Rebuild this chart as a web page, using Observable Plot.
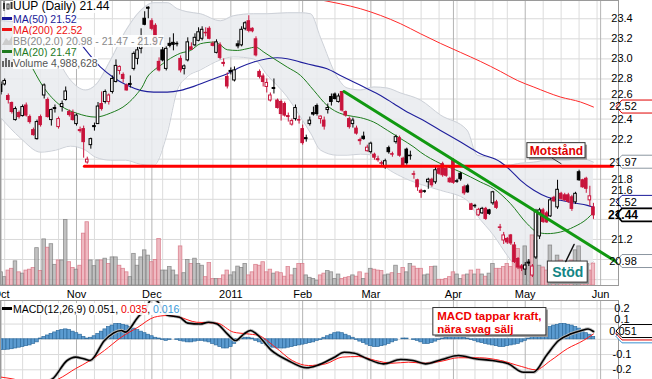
<!DOCTYPE html>
<html><head><meta charset="utf-8">
<script src="https://cdn.jsdelivr.net/npm/d3@7"></script>
<script src="https://cdn.jsdelivr.net/npm/@observablehq/plot@0.6"></script>
<style>
body{margin:0;background:#fff;}
#chart{position:relative;width:652px;height:379px;overflow:hidden;font-family:"Liberation Sans",Arial,sans-serif;}
#chart svg.plot{position:absolute;left:0;display:block;}
.leg{position:absolute;left:2px;font-size:10.5px;line-height:11px;white-space:nowrap;}
.leg span.t{background:rgba(255,255,255,0.9);}
</style></head><body><div id="chart"></div><script>
// ---------- DATA ----------
const opens = [22.74,22.745,22.63,22.56,22.39,22.46,22.43,22.535,22.42,22.29,
22.20,22.42,22.635,22.59,22.39,22.51,22.32,22.52,22.59,22.47,
22.46,22.35,22.29,22.30,21.967,22.14,22.33,22.35,22.55,22.57,
22.57,22.67,22.77,22.88,22.84,22.735,22.75,22.90,23.00,23.10,
23.40,23.51,23.375,23.33,22.97,23.085,22.90,23.15,23.16,23.15,
23.00,22.90,22.985,23.115,23.135,23.18,23.20,23.26,23.30,23.15,
23.06,23.135,22.96,22.82,22.88,22.785,23.145,23.135,23.30,23.375,
23.30,23.195,22.87,22.825,22.72,22.585,22.71,22.585,22.57,22.55,
22.43,22.345,22.40,22.39,22.30,22.21,22.35,22.46,22.53,22.40,
22.385,22.49,22.62,22.645,22.57,22.67,22.47,22.40,22.35,22.305,
22.19,22.225,22.08,22.07,22.045,22.00,21.96,21.92,22.11,22.05,
22.17,22.21,22.005,22.095,22.035,21.85,21.79,21.685,21.68,21.77,
21.795,21.77,21.905,21.95,21.905,21.805,21.99,21.78,21.855,21.72,
21.73,21.55,21.535,21.44,21.46,21.505,21.49,21.56,21.57,21.32,
21.19,21.205,21.24,21.14,21.005,20.93,20.90,20.97,20.84,21.02,
21.23,21.49,21.46,21.43,21.615,21.52,21.655,21.64,21.64,21.62,
21.57,21.87,21.79,21.805,21.59,21.52];
const highs = [22.77,22.80,22.65,22.57,22.52,22.48,22.54,22.56,22.44,22.31,
22.39,22.44,22.75,22.61,22.50,22.54,22.42,22.58,22.72,22.49,
22.49,22.45,22.32,22.33,22.02,22.21,22.36,22.565,22.67,22.69,
22.65,22.83,22.99,22.93,22.86,22.75,22.83,23.07,23.12,23.30,
23.47,23.52,23.40,23.35,23.01,23.12,23.12,23.21,23.25,23.17,
23.03,22.94,23.21,23.16,23.25,23.31,23.32,23.31,23.32,23.17,
23.19,23.16,23.00,22.86,22.91,22.92,23.18,23.32,23.37,23.43,
23.31,23.22,22.89,22.85,22.80,22.66,22.80,22.60,22.59,22.57,
22.46,22.40,22.54,22.43,22.34,22.24,22.42,22.52,22.55,22.43,
22.42,22.55,22.65,22.66,22.65,22.675,22.48,22.42,22.41,22.33,
22.21,22.27,22.14,22.17,22.06,22.03,21.98,22.00,22.13,22.07,
22.24,22.23,22.02,22.11,22.08,21.88,21.80,21.70,21.69,21.81,
21.81,21.92,21.92,21.97,21.92,21.82,22.005,21.80,21.87,21.74,
21.75,21.56,21.55,21.51,21.52,21.52,21.50,21.68,21.59,21.35,
21.27,21.22,21.25,21.17,21.02,20.95,20.97,21.00,20.95,21.50,
21.51,21.51,21.48,21.61,21.63,21.79,21.67,21.66,21.66,21.64,
21.67,21.89,21.80,21.82,21.73,21.56];
const lows = [22.64,22.73,22.55,22.45,22.38,22.40,22.42,22.42,22.35,22.23,
22.19,22.32,22.60,22.41,22.33,22.46,22.30,22.47,22.58,22.42,
22.38,22.33,22.26,22.01,21.95,22.10,22.28,22.35,22.48,22.55,
22.54,22.65,22.76,22.84,22.76,22.68,22.71,22.88,22.94,23.05,
23.33,23.40,23.28,23.13,22.87,22.97,22.88,23.11,23.08,23.12,
22.86,22.84,22.97,23.09,23.12,23.17,23.18,23.22,23.19,23.12,
23.05,22.99,22.92,22.70,22.84,22.77,23.10,23.12,23.28,23.26,
23.26,23.02,22.80,22.72,22.66,22.57,22.65,22.50,22.38,22.42,
22.37,22.33,22.38,22.35,22.14,22.17,22.33,22.43,22.43,22.35,
22.29,22.45,22.53,22.59,22.56,22.47,22.42,22.30,22.31,22.24,
22.14,22.19,22.07,22.05,21.99,21.97,21.93,21.90,22.05,22.02,
22.15,22.02,21.92,21.94,21.99,21.80,21.68,21.61,21.66,21.70,
21.72,21.75,21.84,21.82,21.82,21.76,21.75,21.76,21.78,21.64,
21.66,21.49,21.51,21.43,21.45,21.39,21.44,21.54,21.50,21.28,
21.15,21.15,21.14,20.96,20.90,20.88,20.84,20.93,20.82,21.00,
21.20,21.36,21.36,21.42,21.57,21.50,21.59,21.58,21.56,21.48,
21.55,21.78,21.71,21.66,21.53,21.40];
const closes = [22.67,22.78,22.59,22.47,22.50,22.42,22.52,22.435,22.37,22.24,
22.37,22.34,22.735,22.42,22.49,22.50,22.40,22.55,22.675,22.44,
22.39,22.435,22.28,22.17,21.995,22.20,22.32,22.525,22.50,22.67,
22.635,22.80,22.93,22.92,22.80,22.685,22.74,23.05,23.085,23.22,
23.34,23.50,23.30,23.15,22.885,22.985,23.10,23.13,23.14,23.145,
22.885,22.925,23.165,23.09,23.21,23.265,23.29,23.255,23.20,23.13,
23.165,23.01,22.95,22.725,22.87,22.885,23.125,23.29,23.355,23.28,
23.275,23.035,22.82,22.77,22.76,22.635,22.70,22.51,22.45,22.435,
22.42,22.38,22.51,22.385,22.16,22.20,22.385,22.445,22.45,22.425,
22.325,22.51,22.57,22.60,22.625,22.485,22.435,22.32,22.385,22.255,
22.18,22.20,22.115,22.155,22.015,21.99,21.955,21.98,22.07,22.045,
22.22,22.035,21.935,21.96,22.03,21.845,21.72,21.665,21.675,21.795,
21.74,21.89,21.855,21.84,21.835,21.77,21.765,21.775,21.80,21.66,
21.67,21.495,21.53,21.495,21.505,21.405,21.455,21.67,21.515,21.315,
21.24,21.17,21.16,20.975,20.92,20.91,20.94,20.96,20.93,21.475,
21.49,21.375,21.37,21.59,21.58,21.695,21.605,21.59,21.575,21.505,
21.655,21.79,21.72,21.705,21.63,21.44];
// volume, millions of shares
const volumes = [3.0,1.9,3.4,3.8,5.5,3.0,2.7,3.4,3.6,4.0,
8.5,3.3,10.5,8.6,9.4,4.7,5.7,5.7,14.9,5.3,
4.0,3.6,4.5,11.8,14.4,5.7,4.4,5.7,5.7,6.1,
4.9,6.4,6.4,4.5,3.8,3.0,1.9,7.2,4.5,6.4,
8.0,6.8,5.3,5.8,10.6,3.4,3.4,4.2,3.4,2.3,
8.9,2.8,5.8,4.9,6.1,4.9,4.5,1.9,5.1,1.5,
1.5,1.5,2.3,3.4,2.3,3.0,4.3,4.0,4.9,2.3,
3.0,4.7,4.5,5.3,3.0,3.6,2.7,3.0,2.8,2.0,
4.2,2.3,3.8,4.9,4.9,2.3,1.75,1.5,1.1,2.3,
2.7,3.3,3.0,1.5,2.5,1.5,1.75,1.9,2.3,2.0,
3.0,1.5,2.7,3.8,3.6,3.4,3.3,2.3,2.5,2.8,
4.5,2.6,4.0,3.0,4.9,4.3,3.8,3.8,2.3,2.5,
4.2,4.3,1.3,1.3,1.5,1.9,3.0,2.5,1.5,2.3,
2.5,3.4,2.5,3.6,2.5,2.0,2.7,4.9,3.8,3.8,
4.2,4.9,4.2,9.1,8.3,4.5,8.9,5.7,11.4,10.2,
4.5,4.1,3.4,9.1,4.5,6.8,5.7,4.1,3.4,5.7,
8.0,8.9,3.4,5.0,3.4,4.99];
// MACD histogram per day
const histogram = [-0.07,-0.07,-0.068,-0.065,-0.06,-0.055,-0.05,-0.045,-0.04,-0.03,-0.02,
0.005,0.015,0.025,0.035,0.045,0.055,0.06,0.065,0.06,0.05,0.04,0.03,0.015,0.005,
0.01,0.02,0.035,0.05,0.065,0.08,0.09,0.1,0.1,0.095,0.09,0.08,0.07,0.06,0.05,0.04,0.03,0.02,0.01,0.005,
-0.005,-0.01,-0.005,0,-0.005,-0.01,-0.015,-0.02,-0.02,-0.015,-0.01,-0.01,-0.015,-0.02,-0.03,-0.04,-0.05,-0.06,-0.06,-0.05,
-0.03,-0.01,0.005,0.01,0.01,0.005,
-0.01,-0.02,-0.03,-0.04,-0.05,-0.055,-0.06,-0.06,-0.06,-0.055,-0.05,-0.045,-0.04,-0.035,-0.03,-0.025,-0.02,-0.01,-0.005,
0.01,0.02,0.03,0.04,0.045,0.04,0.03,0.02,0.01,
-0.005,-0.015,-0.025,-0.035,-0.045,-0.05,-0.05,-0.045,-0.04,-0.03,-0.02,-0.01,
0,0.005,0.005,0,-0.005,
-0.01,-0.02,-0.03,-0.03,-0.025,-0.015,-0.005,
0.005,0.01,0.015,0.02,0.02,0.015,0.01,0.005,
-0.005,-0.01,-0.02,-0.025,-0.03,-0.035,-0.04,-0.045,-0.05,-0.05,-0.045,-0.04,-0.035,-0.03,-0.02,-0.01,
0.005,0.015,0.03,0.045,0.06,0.07,0.08,0.09,0.095,0.1,0.1,0.095,0.09,0.08,0.07,0.055,0.04,0.03,0.016];
// overlay lines: [day index, value]
const ma20 = [[5.4,23.134],[7.6,22.985],[11.8,22.719],[16.5,22.536],[21.2,22.457],[26.3,22.42],[30.5,22.46],[35.1,22.55],[37.9,22.653],[39.3,22.719],[40.7,22.818],[42.5,22.885],[44.4,22.935],[46.3,22.985],[50,23.057],[52.8,23.084],[55.5,23.151],[59.2,23.167],[60.6,23.151],[63,23.091],[65.8,23.084],[68.5,23.101],[70.9,23.117],[73.2,23.067],[76,23.002],[79.7,22.918],[83.4,22.835],[87.1,22.686],[90.8,22.536],[93.6,22.47],[96.4,22.437],[100.1,22.414],[103.8,22.37],[107.6,22.288],[111.3,22.205],[115,22.121],[116.8,22.071],[122.4,21.956],[128,21.872],[133.5,21.773],[137.2,21.707],[141.9,21.557],[146.5,21.358],[149.3,21.274],[152.1,21.258],[155.8,21.274],[159.5,21.324],[163.3,21.408],[165,21.47]];
const ma50 = [[12.4,23.582],[20.7,23.217],[27.7,22.918],[31.4,22.812],[35.1,22.736],[38.8,22.686],[42.5,22.669],[46.3,22.669],[50,22.686],[53.7,22.726],[56.9,22.769],[59.3,22.802],[63,22.852],[66.7,22.918],[70.4,22.968],[74.1,23.002],[76.9,23.012],[79.7,23.002],[83.4,22.968],[87.1,22.935],[90.8,22.902],[94.5,22.835],[98.2,22.769],[102,22.703],[105.7,22.636],[109.4,22.553],[113.1,22.47],[116.8,22.404],[122.4,22.287],[128,22.171],[133.5,22.055],[139.1,21.972],[141.9,21.889],[144.7,21.789],[148.4,21.69],[152.1,21.623],[155.8,21.59],[159.5,21.563],[163.3,21.54],[165,21.52]];
const ma200 = [[83.4,23.632],[89.9,23.582],[94.5,23.549],[100.1,23.5],[105.7,23.433],[111.3,23.35],[116.8,23.251],[122.4,23.154],[128,23.064],[133.5,22.975],[139.1,22.875],[143.8,22.785],[148.4,22.719],[155.8,22.62],[161.4,22.57],[165,22.52]];
// Bollinger band: [day index, lower, upper]
const bollinger = [[0,22.41,23.38],[5.4,22.21,23.36],[11,22.07,23.28],[15.2,22.09,23.03],[19.3,22.13,22.79],[23.5,22.09,22.69],[26.3,22.02,22.74],[30.5,21.99,22.99],[34.7,21.99,23.28],[38.8,21.95,23.48],[42.5,21.94,23.56],[46.3,22.26,23.56],[49.1,22.69,23.50],[51.8,22.82,23.47],[55.5,22.89,23.45],[61.1,22.99,23.38],[64.7,23.02,23.43],[70.3,23.00,23.45],[74.1,22.84,23.45],[79.7,22.62,23.46],[83.4,22.42,23.46],[86.2,22.26,23.45],[89,22.09,23.21],[93.6,22.04,22.82],[96.4,22.04,22.71],[100.1,22.05,22.69],[103.8,22.04,22.72],[107.5,21.91,22.71],[111.3,21.83,22.66],[116.8,21.75,22.59],[122.4,21.69,22.44],[129.8,21.59,22.29],[132.6,21.44,22.04],[137.2,21.24,22.01],[141,21.04,21.94],[144.7,20.87,21.96],[148.3,20.74,21.97],[152.1,20.69,21.99],[157.7,20.77,21.99],[161.4,20.87,22.01],[165,20.98,21.97]];
const macdLine = [[0,-0.32],[8,-0.31],[14.3,-0.26],[18.4,-0.139],[20.7,-0.117],[23,-0.128],[24.8,-0.139],[28.8,-0.008],[33.5,0.058],[34.6,0.047],[38.1,0.145],[40.5,0.207],[42,0.27],[43.5,0.25],[46.3,0.158],[49.7,0.145],[52,0.106],[55.5,0.10],[57.8,0.112],[60.2,0.10],[63,0.036],[65.3,-0.008],[67.7,0.036],[69.5,0.058],[71.1,0.036],[75.3,-0.073],[79.9,-0.139],[85.1,-0.187],[88,-0.172],[92.6,-0.121],[95.6,-0.085],[98.4,-0.091],[102,-0.128],[106.5,-0.161],[111.3,-0.132],[114.7,-0.139],[118.2,-0.161],[122.8,-0.132],[127.4,-0.106],[132.1,-0.128],[136.8,-0.139],[141.3,-0.161],[145.5,-0.216],[148.3,-0.216],[151.9,-0.106],[155.3,-0.008],[158.8,0.036],[161.7,0.058],[163.5,0.068],[165,0.051]];
const signalLine = [[0,-0.248],[3.3,-0.26],[10,-0.30],[16,-0.26],[20.7,-0.193],[24.8,-0.139],[28.8,-0.073],[33.5,0.014],[38.1,0.079],[42.7,0.145],[46.3,0.156],[49.7,0.145],[54.4,0.112],[60.2,0.106],[64.7,0.047],[68.4,0.036],[71.7,0.025],[76.4,-0.052],[81.1,-0.139],[85.6,-0.172],[90.4,-0.161],[95,-0.117],[99.6,-0.113],[104.3,-0.139],[108.9,-0.157],[113.5,-0.15],[118.2,-0.157],[122.8,-0.143],[127.4,-0.121],[133.3,-0.121],[139.1,-0.139],[144.9,-0.178],[148.9,-0.2],[153.1,-0.139],[157.7,-0.062],[162.2,-0.008],[165,0.035]];
// user-drawn lines
const resistanceLine = [[23.2,21.93],[170.3,21.93]];
const trendLine = [[95.5,22.675],[171.7,20.97]];
// axis ticks / labels
const monthIdx = [0,21,42,64,84,103,126,146,167];
const monthLabels = ["Oct","Nov","Dec","2011","Feb","Mar","Apr","May","Jun"];
const weekIdx = [1,6,11,16,26,31,36,40,45,50,55,59,69,74,78,83,88,93,98,102,107,112,117,122,127,132,137,141,151,156,161,166];
const priceGrid = [20.8,21.0,21.2,21.4,21.6,21.8,22.0,22.2,22.4,22.6,22.8,23.0,23.2,23.4];
const priceLabels = [21.2,21.6,21.8,22.2,22.4,22.6,22.8,23.0,23.2,23.4];
const macdGrid = [-0.2,-0.1,0,0.1,0.2];
const macdLabels = [-0.2,-0.1,0.1,0.2];
const priceTags = [{v:22.52,t:"22.52",c:"#e00000"},{v:21.97,t:"21.97",c:"#8c96a0"},{v:21.52,t:"21.52",c:"#1a1a99"},{v:21.44,t:"21.44",c:"#000",b:true},{v:20.98,t:"20.98",c:"#8c96a0"}];
const macdTags = [{v:0.016,t:"",c:"#3a90d0"},{v:0.035,t:"",c:"#e00000"},{v:0.051,t:"0.051",c:"#000"}];
const legendMain = [
  {t:"UUP (Daily) 21.44", c:"#000", icon:"candle"},
  {t:"MA(50) 21.52", c:"#1a1a99", icon:"line"},
  {t:"MA(200) 22.52", c:"#ee1111", icon:"line"},
  {t:"BB(20,2.0) 20.98 - 21.47 - 21.97", c:"#8a8a8a", icon:"band"},
  {t:"MA(20) 21.47", c:"#1e7a1e", icon:"line"},
  {t:"Volume 4,988,628", c:"#555", icon:"vol"}];
const calloutMotstand = {text:"Motstånd", box:[146.6,162.8,22.01,22.16], ptr:[[153.5,22.01],[156,21.955]]};
const calloutStod = {text:"Stöd", box:[152.3,163.4,20.77,20.98], ptr:[[157.3,20.98],[159.6,21.15]]};
const calloutMacd = {lines:["MACD tappar kraft,","nära svag sälj"], box:[120.4,151.9,0.025,0.205], textAt:[[121.5,0.148],[121.5,0.066]]};

// ---------- BUILD ----------
const RED = "#c8143c";
const candles = closes.map((c,i)=>({i, o:opens[i], h:highs[i], l:lows[i], c, v:volumes[i],
  col: (i>0 && c<closes[i-1]) ? RED : "#000"}));
const xDomain = [-0.167, 171.98];
const yDomain = [20.741, 23.582];
const volBase = yDomain[0], volK = 0.0438;
const font = "Liberation Sans, Arial, sans-serif";

const main = Plot.plot({
  width:652, height:300, marginLeft:0, marginRight:34, marginTop:0, marginBottom:15,
  x:{domain:xDomain, axis:null}, y:{domain:yDomain, axis:null},
  style:{fontFamily:font, fontSize:"11px", background:"transparent", overflow:"visible"},
  marks:[
    Plot.ruleY(priceGrid, {y:d=>d, stroke:"#d9d9d9", strokeWidth:1}),
    Plot.ruleX(weekIdx, {x:d=>d, stroke:"#dcdcdc", strokeWidth:1}),
    Plot.ruleX(monthIdx, {x:d=>d, stroke:"#b4b4b4", strokeWidth:1}),
    Plot.areaY(bollinger, {x:d=>d[0], y1:d=>d[1], y2:d=>d[2], fill:"#e9ebef", fillOpacity:0.85, curve:"monotone-x", clip:true}),
    Plot.line(bollinger, {x:d=>d[0], y:d=>d[2], stroke:"#cdd1d8", strokeWidth:1, curve:"monotone-x", clip:true}),
    Plot.line(bollinger, {x:d=>d[0], y:d=>d[1], stroke:"#cdd1d8", strokeWidth:1, curve:"monotone-x", clip:true}),
    Plot.rect(candles, {x1:d=>d.i-0.5, x2:d=>d.i+0.5, y1:volBase, y2:d=>volBase+d.v*volK,
      fill:d=>d.col===RED?"#e9a3ae":"#acacac", fillOpacity:0.75,
      stroke:d=>d.col===RED?"#d4707f":"#7c7c7c", strokeOpacity:0.8, strokeWidth:0.8}),
    Plot.line(ma200, {x:d=>d[0], y:d=>d[1], stroke:"#ff2a2a", strokeWidth:1, curve:"monotone-x", clip:true}),
    Plot.line(ma50, {x:d=>d[0], y:d=>d[1], stroke:"#1f1f9c", strokeWidth:1.1, curve:"monotone-x", clip:true}),
    Plot.line(ma20, {x:d=>d[0], y:d=>d[1], stroke:"#1e7d1e", strokeWidth:1, curve:"monotone-x", clip:true}),
    Plot.ruleX(candles, {x:"i", y1:"l", y2:"h", stroke:"col", strokeWidth:1}),
    Plot.rect(candles, {x1:d=>d.i-0.36, x2:d=>d.i+0.36, y1:d=>Math.min(d.o,d.c), y2:d=>Math.max(d.o,d.c),
      fill:d=>d.c>=d.o?"#fff":d.col, stroke:"col", strokeWidth:1}),
    Plot.line(resistanceLine, {x:d=>d[0], y:d=>d[1], stroke:"#ff0000", strokeWidth:3}),
    Plot.line(trendLine, {x:d=>d[0], y:d=>d[1], stroke:"#119911", strokeWidth:3}),
    // callouts
    Plot.rect([calloutMotstand, calloutStod], {x1:d=>d.box[0], x2:d=>d.box[1], y1:d=>d.box[2], y2:d=>d.box[3], fill:"#9a9a9a", dx:2, dy:2}),
    Plot.rect([calloutMotstand, calloutStod], {x1:d=>d.box[0], x2:d=>d.box[1], y1:d=>d.box[2], y2:d=>d.box[3], fill:"#fff", stroke:"#333", strokeWidth:1}),
    Plot.line(calloutMotstand.ptr, {x:d=>d[0], y:d=>d[1], stroke:"#333", strokeWidth:1}),
    Plot.line(calloutStod.ptr, {x:d=>d[0], y:d=>d[1], stroke:"#111", strokeWidth:1.5}),
    Plot.text([calloutMotstand], {x:d=>(d.box[0]+d.box[1])/2, y:d=>(d.box[2]+d.box[3])/2, text:"text", fill:"#e00000", fontWeight:"bold", fontSize:12}),
    Plot.text([calloutStod], {x:d=>(d.box[0]+d.box[1])/2, y:d=>(d.box[2]+d.box[3])/2, text:"text", fill:"#138585", fontWeight:"bold", fontSize:14}),
    Plot.frame({stroke:"#9a9a9a"}),
    Plot.text(monthIdx, {x:d=>d, y:yDomain[0], text:(d,i)=>monthLabels[i], dy:9, fill:"#000", fontSize:11,
      fontWeight:(d,i)=>monthLabels[i]==="2011"?"bold":"normal"})
  ]
});
main.classList.add("plot");
main.style.top = "0px";

const macdDomain = [-0.2636, 0.2544];
const histData = histogram.map((v,i)=>({i,v}));
const macd = Plot.plot({
  width:652, height:79, marginLeft:0, marginRight:34, marginTop:0, marginBottom:0,
  x:{domain:xDomain, axis:null}, y:{domain:macdDomain, axis:null},
  style:{fontFamily:font, fontSize:"11px", background:"transparent", overflow:"visible"},
  marks:[
    Plot.ruleY(macdGrid, {y:d=>d, stroke:"#d9d9d9"}),
    Plot.ruleX(weekIdx, {x:d=>d, stroke:"#dcdcdc"}),
    Plot.ruleX(monthIdx, {x:d=>d, stroke:"#b4b4b4"}),
    Plot.rect(histData, {x1:d=>d.i-0.5, x2:d=>d.i+0.5, y1:0, y2:"v", fill:"#5b9bd0", stroke:"#2f6c9e", strokeWidth:0.7}),
    Plot.line(macdLine, {x:d=>d[0], y:d=>d[1], stroke:"#bbb", strokeWidth:3.2, curve:"monotone-x", clip:true}),
    Plot.line(signalLine, {x:d=>d[0], y:d=>d[1], stroke:"#ff1a1a", strokeWidth:1, curve:"monotone-x", clip:true}),
    Plot.line(macdLine, {x:d=>d[0], y:d=>d[1], stroke:"#000", strokeWidth:1.6, curve:"monotone-x", clip:true}),
    Plot.rect([calloutMacd], {x1:d=>d.box[0], x2:d=>d.box[1], y1:d=>d.box[2], y2:d=>d.box[3], fill:"#9a9a9a", dx:2, dy:2}),
    Plot.rect([calloutMacd], {x1:d=>d.box[0], x2:d=>d.box[1], y1:d=>d.box[2], y2:d=>d.box[3], fill:"#fff", stroke:"#333"}),
    Plot.text(calloutMacd.textAt, {x:d=>d[0], y:d=>d[1], text:(d,i)=>calloutMacd.lines[i], textAnchor:"start", fill:"#ee0000", fontWeight:"bold", fontSize:11.5}),
    Plot.frame({stroke:"#9a9a9a"})
  ]
});
macd.classList.add("plot");
macd.style.top = "300px";

const chart = document.getElementById("chart");
chart.appendChild(main);
chart.appendChild(macd);

// right axis: value tags and tick labels, positioned through the plots' scales
function drawAxis(svgEl, labels, fmt, tags, nudge){
  const ys = svgEl.scale("y"), xs = svgEl.scale("x");
  const x0 = xs.apply(xDomain[1]) - 2, h = 13, w = 34;
  const placed = tags.map(t=>({...t, y:ys.apply(t.v)}));
  if (nudge) {
    const order = placed.slice().sort((a,b)=>b.y-a.y);
    for (let k=1;k<order.length;k++){ if (order[k].y > order[k-1].y - h) order[k].y = order[k-1].y - h; }
  }
  const g = d3.select(svgEl).append("g");
  // tick labels, moved clear of any labelled tag they would collide with
  for (const v of labels){
    const y0 = ys.apply(v);
    let y = y0;
    for (const t of placed){
      if (!t.t || Math.abs(y0 - t.y) >= h) continue;
      y = (y0 <= t.y) ? Math.min(y, t.y - h/2 - 5.5) : Math.max(y, t.y + h/2 + 5.5);
    }
    g.append("text").attr("x",x0+6).attr("y",y).attr("dy","0.36em").attr("font-size",11)
      .attr("font-family",font).attr("fill","#000").text(fmt(v));
  }
  for (const t of placed){
    g.append("path").attr("d",`M${x0},${t.y} L${x0+6},${t.y-h/2} L${x0+6+w},${t.y-h/2} L${x0+6+w},${t.y+h/2} L${x0+6},${t.y+h/2} Z`)
      .attr("fill","#fff").attr("stroke",t.c).attr("stroke-width",t.b?1.6:1);
    if (t.t) g.append("text").attr("x",x0+7).attr("y",t.y).attr("dy","0.36em").attr("font-size",t.b?12:11)
      .attr("font-weight",t.b?"bold":"normal").attr("font-family",font)
      .attr("fill","#000").text(t.t);
  }
}
drawAxis(main, priceLabels, v=>v.toFixed(1), priceTags, true);
drawAxis(macd, macdLabels, v=>String(v), macdTags, false);

// legends
function icon(kind, color){
  const s = {
    candle:`<svg width="11" height="10" style="vertical-align:-1px"><rect x="1" y="2" width="2" height="6" fill="#333"/><line x1="2" y1="0" x2="2" y2="10" stroke="#333"/><rect x="5" y="3" width="2" height="5" fill="none" stroke="#333"/><rect x="8.5" y="1" width="2" height="7" fill="#333"/></svg>`,
    line:`<svg width="11" height="10" style="vertical-align:0px"><rect x="0" y="4" width="10" height="3" fill="${color}"/></svg>`,
    band:`<svg width="11" height="10" style="vertical-align:0px"><path d="M0,10 L4,3 L7,6 L10,1 L10,10 Z" fill="#ccc"/></svg>`,
    vol:`<svg width="11" height="10" style="vertical-align:0px"><rect x="0" y="4" width="2" height="6" fill="#666"/><rect x="3" y="1" width="2" height="9" fill="#666"/><rect x="6" y="3" width="2" height="7" fill="#666"/><rect x="9" y="5" width="2" height="5" fill="#666"/></svg>`
  };
  return s[kind];
}
legendMain.forEach((d,k)=>{
  const div = document.createElement("div");
  div.className = "leg";
  div.style.top = (k===0 ? 1 : 2 + k*11) + "px";
  if (k===0) div.style.fontSize = "12px";
  div.style.color = d.c;
  div.innerHTML = icon(d.icon, d.c) + `<span class="t">${d.t}</span>`;
  chart.appendChild(div);
});
const ml = document.createElement("div");
ml.className = "leg"; ml.style.top = "303px";
ml.innerHTML = `<svg width="11" height="10" style="vertical-align:0px"><rect x="0" y="4" width="10" height="3" fill="#000"/></svg><span class="t">MACD(12,26,9) 0.051, <span style="color:#ee0000">0.035</span>, <span style="color:#3a9ad9">0.016</span></span>`;
chart.appendChild(ml);
</script></body></html>
